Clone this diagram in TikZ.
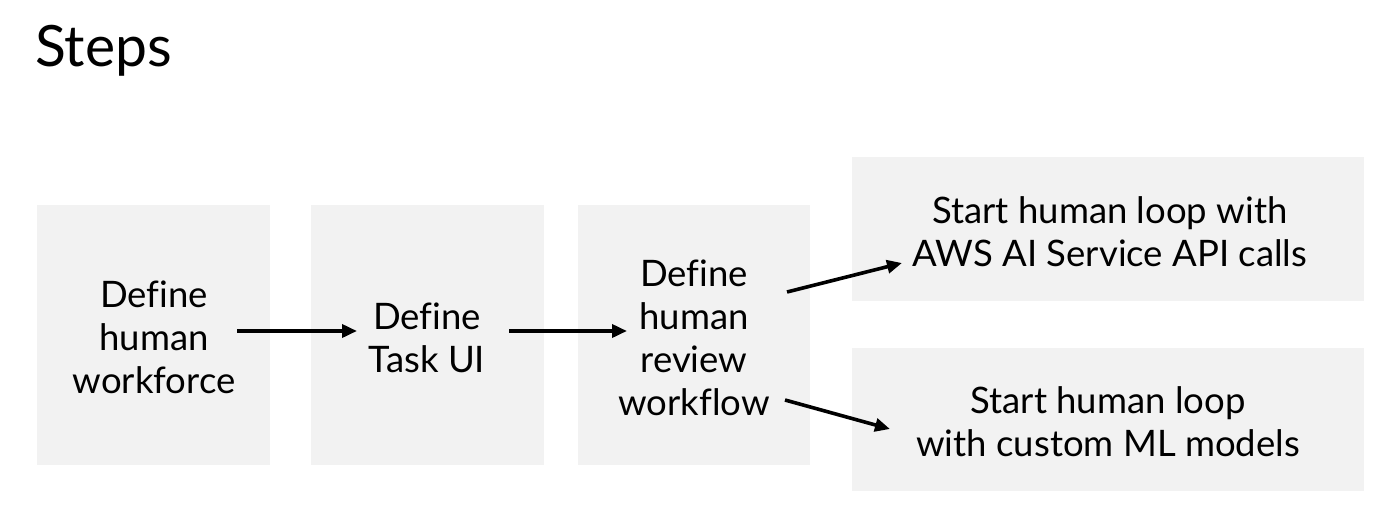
\documentclass[tikz,border=0pt]{standalone}
\usepackage{fontspec}
\setmainfont{Lato}[Ligatures=NoCommon]
\usetikzlibrary{arrows.meta}
\definecolor{boxgray}{HTML}{F2F2F2}
\tikzset{
  stepbox/.style={fill=boxgray, draw=none, anchor=north west, inner sep=0pt},
  steptext/.style={align=center, font=\fontsize{36.5}{43}\selectfont, inner sep=0pt},
  flow/.style={line width=3.6pt, -{Triangle[length=15pt,width=13pt]}}
}
\begin{document}
\begin{tikzpicture}[x=1pt,y=-1pt]
\useasboundingbox (0,0) rectangle (1390,516);
\node[anchor=base west, inner sep=0pt, font=\fontsize{57}{64}\selectfont] (title) at (35,67) {Steps};
\node[stepbox, minimum width=233pt, minimum height=260pt] (b1) at (37,205) {};
\node[stepbox, minimum width=233pt, minimum height=260pt] (b2) at (311,205) {};
\node[stepbox, minimum width=232pt, minimum height=260pt] (b3) at (578,205) {};
\node[stepbox, minimum width=512pt, minimum height=144pt] (b4) at (852,157) {};
\node[stepbox, minimum width=512pt, minimum height=143pt] (b5) at (852,348) {};
\node[steptext] (t1) at (154,337) {Define\\human\\workforce};
\node[steptext] (t2) at (427,338) {Define\\Task UI};
\node[steptext] (t3) at (694,338) {Define\\human\\review\\workflow};
\node[steptext] (t4) at (1110,232) {Start human loop with\\AWS AI Service API calls};
\node[steptext] (t5) at (1108,422) {Start human loop\\with custom ML models};
\coordinate (a1s) at (237,331);
\coordinate (a1e) at (357,331);
\coordinate (a2s) at (509,331);
\coordinate (a2e) at (627,331);
\coordinate (a3s) at (787,292);
\coordinate (a3e) at (902,263);
\coordinate (a4s) at (785,400);
\coordinate (a4e) at (890,429);
\draw[flow] (a1s) -- (a1e);
\draw[flow] (a2s) -- (a2e);
\draw[flow] (a3s) -- (a3e);
\draw[flow] (a4s) -- (a4e);
\end{tikzpicture}
\end{document}
